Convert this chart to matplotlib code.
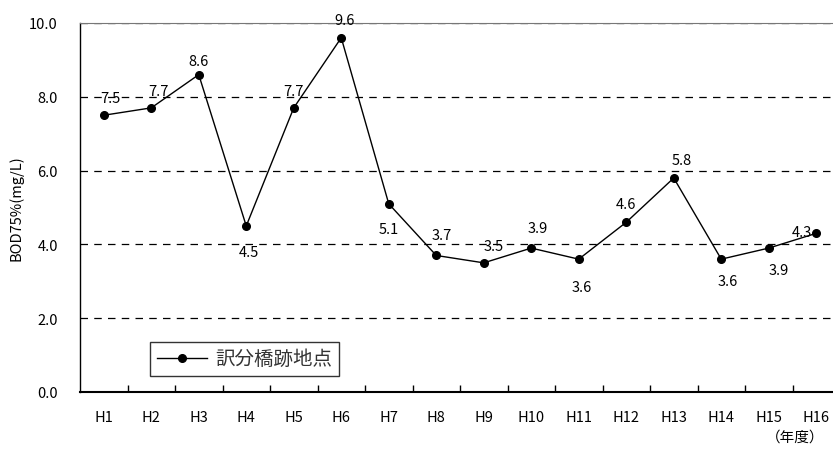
import matplotlib.pyplot as plt
import numpy as np

plt.rcParams['font.family'] = ['Noto Sans CJK JP', 'DejaVu Sans']

years = ['H1', 'H2', 'H3', 'H4', 'H5', 'H6', 'H7', 'H8', 'H9', 'H10',
         'H11', 'H12', 'H13', 'H14', 'H15', 'H16']
bod75 = [7.5, 7.7, 8.6, 4.5, 7.7, 9.6, 5.1, 3.7, 3.5, 3.9,
         3.6, 4.6, 5.8, 3.6, 3.9, 4.3]
# label offsets (pixels) so numbers sit where the original had them
offsets = [(7, 17), (7, 17), (0, 14), (3, -26), (0, 17), (3, 18), (0, -25), (5, 20),
           (10, 17), (6, 20), (3, -28), (0, 18), (8, 18), (6, -22), (10, -22), (-14, 1)]

fig = plt.figure(figsize=(8.33, 4.52), dpi=100)
ax = fig.add_axes([80 / 833, 59 / 452, 760 / 833, 369 / 452])

x = np.arange(len(years))
ax.plot(x, bod75, color='black', lw=1, marker='o', ms=5.5,
        label='訳分橋跡地点', zorder=3)

for xi, v, (dx, dy) in zip(x, bod75, offsets):
    ax.annotate('{0:.1f}'.format(v), (xi, v), xytext=(dx, dy),
                textcoords='offset pixels', ha='center', va='center',
                fontsize=10.5)

ax.set_xlim(-0.5, len(years) - 0.5)
ax.set_ylim(0, 10)
ax.set_yticks(np.arange(0, 10.1, 2))
ax.set_yticklabels(['{0:.1f}'.format(t) for t in np.arange(0, 10.1, 2)])
ax.set_xticks(x)
ax.set_xticklabels(years)
ax.set_xticks(np.arange(0.5, len(years) - 0.5, 1), minor=True)
ax.tick_params(axis='x', which='major', length=0, pad=13, labelsize=10.5)
ax.tick_params(axis='x', which='minor', direction='in', length=5, width=1)
ax.tick_params(axis='y', length=0, pad=16, labelsize=10.5)

for yv in [2, 4, 6, 8, 10]:
    ax.axhline(yv, color='black', lw=0.9, ls=(0, (6, 5)), zorder=1)

ax.spines['top'].set_color('#777777')
ax.spines['right'].set_visible(False)
ax.spines['left'].set_linewidth(1)
ax.spines['bottom'].set_linewidth(1.5)

ax.set_ylabel('BOD75%(mg/L)', fontsize=10.5, labelpad=4)

leg = ax.legend(loc='lower left', bbox_to_anchor=(0.092, 0.043), fontsize=14,
                frameon=True, fancybox=False, handlelength=2.6,
                borderpad=0.35, borderaxespad=0, handletextpad=0.4)
leg.get_frame().set_edgecolor('black')
leg.get_frame().set_linewidth(1)
for t in leg.get_texts():
    t.set_color('#333333')

fig.text(795 / 833, 1 - 438 / 452, '（年度）', ha='center', va='center', fontsize=10.5)

fig.savefig('out.png', dpi=100)
